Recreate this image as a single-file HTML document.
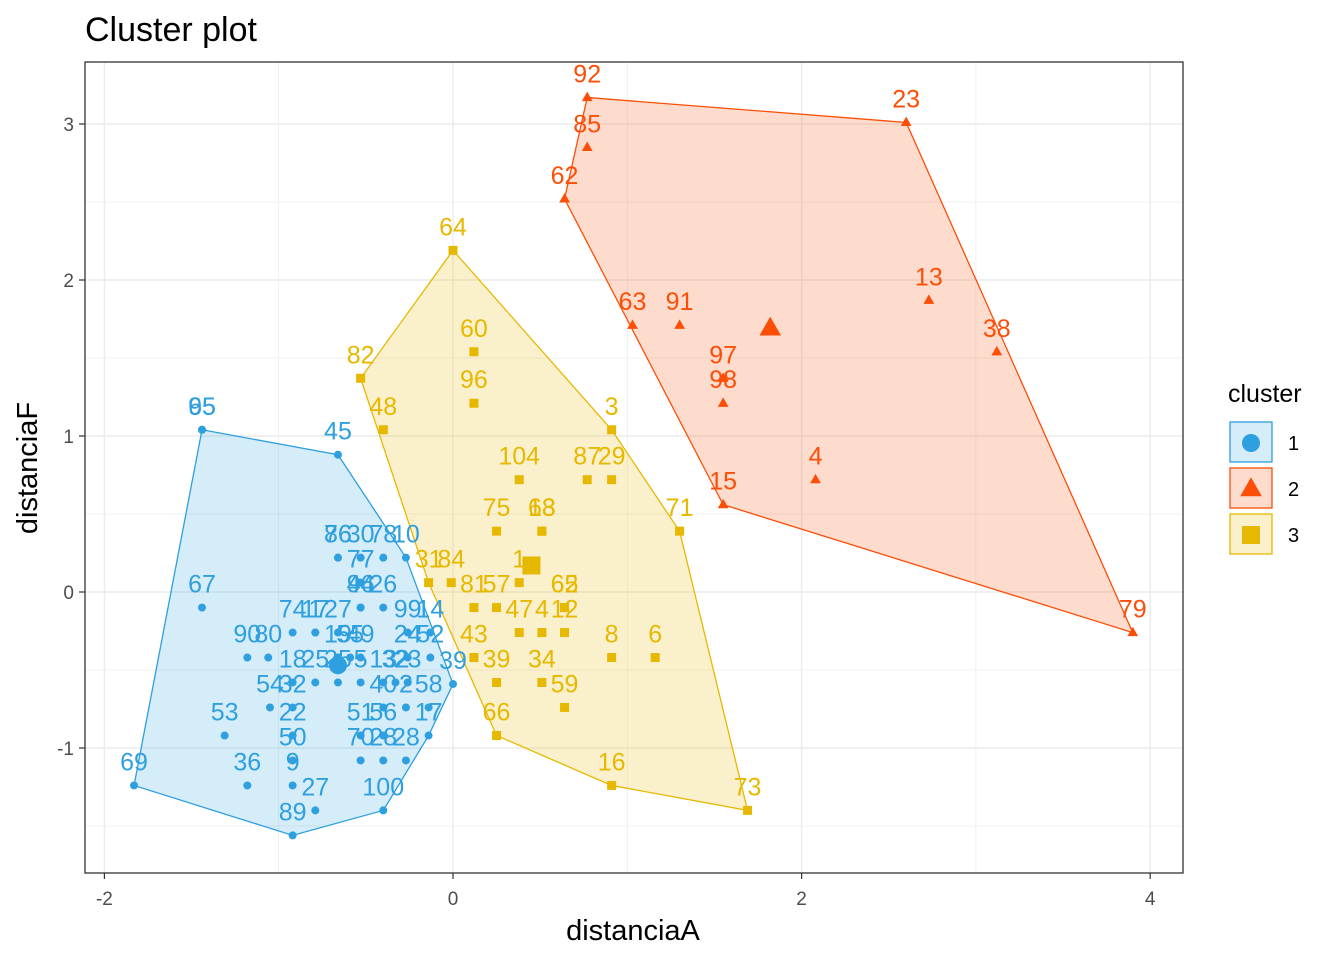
<!DOCTYPE html>
<html><head><meta charset="utf-8"><style>
body{margin:0;background:#fff}
svg{display:block;font-family:"Liberation Sans",Arial,sans-serif}
</style></head><body>
<svg id="chart" width="1344" height="960" viewBox="0 0 1344 960" xmlns="http://www.w3.org/2000/svg">
<text x="85" y="41" font-size="34" fill="#000">Cluster plot</text>
<rect x="85" y="62" width="1098" height="811" fill="#fff"/>
<g id="grid"></g>
<g id="hulls"></g>
<g id="marks"></g>
<g id="labels"></g>
<rect x="85" y="62" width="1098" height="811" fill="none" stroke="#333" stroke-width="1.3"/>
<g id="axes"></g>
<text x="633" y="940" font-size="29" text-anchor="middle" fill="#000">distanciaA</text>
<text transform="translate(37,468) rotate(-90)" font-size="29" text-anchor="middle" fill="#000">distanciaF</text>
<g id="legend">
<text x="1228" y="402" font-size="25" fill="#000">cluster</text>
</g>
</svg>
<script>
// ---- data ----
const c1x=[-1.44,-1.44,-0.66,-0.66,-0.66,-0.53,-0.40,-0.27,-0.53,-0.53,-0.53,-0.40,-1.44,-0.92,-0.79,-0.79,-0.66,-0.26,-0.13,-1.18,-1.06,-0.66,-0.59,-0.53,-0.26,-0.13,-0.92,-0.79,-0.66,-0.53,-0.40,-0.33,-0.26,0.00,-1.05,-0.92,-0.40,-0.27,-0.14,-1.31,-0.92,-0.53,-0.40,-0.14,-0.92,-0.53,-0.40,-0.27,-1.83,-1.18,-0.92,-0.40,-0.79,-0.92];
const c1y=[1.04,1.04,0.88,0.22,0.22,0.22,0.22,0.22,0.06,-0.10,-0.10,-0.10,-0.10,-0.26,-0.26,-0.26,-0.26,-0.26,-0.26,-0.42,-0.42,-0.42,-0.42,-0.42,-0.42,-0.42,-0.58,-0.58,-0.58,-0.58,-0.58,-0.58,-0.58,-0.59,-0.74,-0.74,-0.74,-0.74,-0.74,-0.92,-0.92,-0.92,-0.92,-0.92,-1.08,-1.08,-1.08,-1.08,-1.24,-1.24,-1.24,-1.40,-1.40,-1.56];
const c1lab=["95","65","45","76","86","30","78","10","77","94","46","26","67","74","1","17","27","99","14","90","80","19","55","49","24","52","18","25","25","5","13","32","23","39","54","32","40","2","58","53","22","51","56","17","50","70","28","28","69","36","9","100","27","89"];
const c2x=[0.77,0.77,2.60,0.64,2.73,1.03,1.30,3.12,1.55,1.55,1.55,2.08,3.90];
const c2y=[3.17,2.85,3.01,2.52,1.87,1.71,1.71,1.54,1.37,1.21,0.56,0.72,-0.26];
const c2lab=["92","85","23","62","13","63","91","38","97","98","15","4","79"];
const c3x=[0.00,0.12,-0.53,0.12,-0.40,0.91,0.38,0.77,0.91,0.25,0.51,0.51,1.30,-0.14,-0.01,0.38,0.12,0.25,0.64,0.64,0.38,0.51,0.64,0.12,0.91,1.16,0.25,0.51,0.64,0.25,0.91,1.69];
const c3y=[2.19,1.54,1.37,1.21,1.04,1.04,0.72,0.72,0.72,0.39,0.39,0.39,0.39,0.06,0.06,0.06,-0.10,-0.10,-0.10,-0.10,-0.26,-0.26,-0.26,-0.42,-0.42,-0.42,-0.58,-0.58,-0.74,-0.92,-1.24,-1.40];
const c3lab=["64","60","82","96","48","3","104","87","29","75","18","63","71","31","84","1","81","57","65","62","47","4","12","43","8","6","39","34","59","66","16","73"];
const centX=[-0.66,1.82,0.45];
const centY=[-0.47,1.69,0.17];
const xTicks=[-2,0,2,4];
const yTicks=[-1,0,1,2,3];
// ---- scales ----
const X=v=>453+v*174.3, Y=v=>592-v*156;
const NS="http://www.w3.org/2000/svg";
function mk(tag,attrs,parent){const e=document.createElementNS(NS,tag);for(const k in attrs)e.setAttribute(k,attrs[k]);parent.appendChild(e);return e;}
const grid=document.getElementById('grid'),axes=document.getElementById('axes');
for(let v=-2;v<=4;v+=1){const l=mk('line',{x1:X(v),x2:X(v),y1:62,y2:873,stroke:'#ebebeb','stroke-width':v%2===0?1.4:0.7},grid);

}
for(let v=-1.5;v<=3.01;v+=0.5){const l=mk('line',{x1:85,x2:1183,y1:Y(v),y2:Y(v),stroke:'#ebebeb','stroke-width':Number.isInteger(v)?1.4:0.7},grid);

}
xTicks.forEach(v=>{const t=mk('line',{x1:X(v),x2:X(v),y1:873,y2:879,stroke:'#333','stroke-width':1.2},axes);


const s=mk('text',{x:X(v),y:905,'font-size':19,'text-anchor':'middle',fill:'#4d4d4d'},axes);s.textContent=v;

});
yTicks.forEach(v=>{const t=mk('line',{x1:79,x2:85,y1:Y(v),y2:Y(v),stroke:'#333','stroke-width':1.2},axes);


const s=mk('text',{x:74,y:Y(v)+7,'font-size':19,'text-anchor':'end',fill:'#4d4d4d'},axes);s.textContent=v;

});
const cols=['#2E9FDF','#FC4E07','#E7B800'];
const clusters=[[c1x,c1y,c1lab],[c2x,c2y,c2lab],[c3x,c3y,c3lab]];
function hull(pts){pts=pts.slice().sort((a,b)=>a[0]-b[0]||a[1]-b[1]);const cr=(o,a,b)=>(a[0]-o[0])*(b[1]-o[1])-(a[1]-o[1])*(b[0]-o[0]);const lo=[],up=[];
for(const p of pts){while(lo.length>=2&&cr(lo[lo.length-2],lo[lo.length-1],p)<=0)lo.pop();lo.push(p);}
for(const p of pts.slice().reverse()){while(up.length>=2&&cr(up[up.length-2],up[up.length-1],p)<=0)up.pop();up.push(p);}
return lo.slice(0,-1).concat(up.slice(0,-1));}
function shape(k,cx,cy,s,parent){let e;
if(k===0)e=mk('circle',{cx:cx,cy:cy,r:s},parent);
else if(k===1)e=mk('polygon',{points:`${cx},${cy-s*1.3} ${cx-s*1.2},${cy+s*0.8} ${cx+s*1.2},${cy+s*0.8}`},parent);
else e=mk('rect',{x:cx-s,y:cy-s,width:2*s,height:2*s},parent);return e;}
const hg=document.getElementById('hulls'),mg=document.getElementById('marks'),lg=document.getElementById('labels');
clusters.forEach(([xs,ys,lab],k)=>{
 const pts=xs.map((x,i)=>[X(x),Y(ys[i])]);
 const h=hull(pts);
 const p=mk('polygon',{points:h.map(q=>q.join(',')).join(' '),fill:cols[k],'fill-opacity':0.2,stroke:cols[k],'stroke-width':1.3},hg);
 
 
 pts.forEach((q,i)=>{const e=shape(k,q[0],q[1],k===0?4:4.5,mg);e.setAttribute('fill',cols[k]);
 
 
 const t=mk('text',{x:q[0],y:q[1]-15,'font-size':25,'text-anchor':'middle',fill:cols[k]},lg);t.textContent=lab[i];
 
 });
 const c=shape(k,X(centX[k]),Y(centY[k]),9,mg);c.setAttribute('fill',cols[k]);
 
 
});
const leg=document.getElementById('legend');
[0,1,2].forEach(k=>{const y0=422+k*46;
 const r=mk('rect',{x:1230,y:y0,width:42,height:40,fill:cols[k],'fill-opacity':0.2,stroke:cols[k],'stroke-width':1.3},leg);
 
 
 const s=shape(k,1251,y0+21,9,leg);s.setAttribute('fill',cols[k]);
 
 
 const t=mk('text',{x:1288,y:y0+28,'font-size':20,fill:'#000'},leg);t.textContent=String(k+1);
 
 });
</script>
</body></html>
